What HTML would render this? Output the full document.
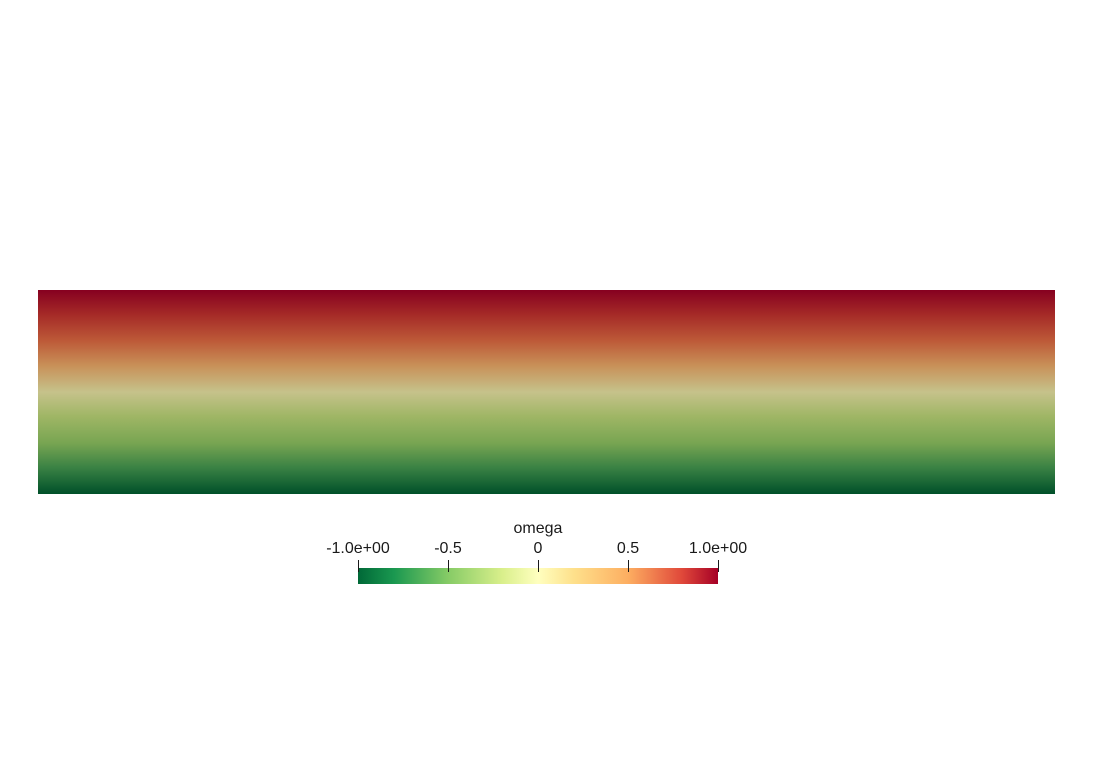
<!DOCTYPE html>
<html><head><meta charset="utf-8"><style>
html,body{margin:0;padding:0;background:#fff;width:1093px;height:784px;overflow:hidden}
svg{display:block}
text{font-family:"Liberation Sans","DejaVu Sans",sans-serif;font-size:16px;fill:#1a1a1a}
</style></head><body>
<svg id="chart" width="1093" height="784">
<defs>
<linearGradient id="field" x1="0" y1="0" x2="0" y2="1">
<stop offset="0" stop-color="#860020"/>
<stop offset="0.12" stop-color="#a52a27"/>
<stop offset="0.25" stop-color="#bd5a38"/>
<stop offset="0.37" stop-color="#c89058"/>
<stop offset="0.5" stop-color="#c6c28b"/>
<stop offset="0.62" stop-color="#9fb665"/>
<stop offset="0.75" stop-color="#78a552"/>
<stop offset="0.87" stop-color="#3a8244"/>
<stop offset="1" stop-color="#00502a"/>
</linearGradient>
<linearGradient id="cbar" x1="0" y1="0" x2="1" y2="0">
<stop offset="0" stop-color="#006837"/>
<stop offset="0.1" stop-color="#1a9850"/>
<stop offset="0.25" stop-color="#86cb66"/>
<stop offset="0.4" stop-color="#d9ef8b"/>
<stop offset="0.5" stop-color="#ffffbf"/>
<stop offset="0.6" stop-color="#fee08b"/>
<stop offset="0.75" stop-color="#fdae61"/>
<stop offset="0.9" stop-color="#e0483a"/>
<stop offset="1" stop-color="#a50026"/>
</linearGradient>
</defs>
<rect x="38" y="290" width="1017" height="204" fill="url(#field)"/>
<rect x="358" y="568" width="360" height="16" fill="url(#cbar)"/>
<text x="538" y="533" text-anchor="middle">omega</text>
<g id="ticks"></g>
</svg>
<script>
const tickValues = [-1, -0.5, 0, 0.5, 1];
const tickLabels = ["-1.0e+00", "-0.5", "0", "0.5", "1.0e+00"];
const domain = [-1, 1];
const x0 = 358, x1 = 718;
function xs(v){ return x0 + (v - domain[0]) / (domain[1] - domain[0]) * (x1 - x0); }
const g = document.getElementById('ticks');
const NS = "http://www.w3.org/2000/svg";
tickValues.forEach((v, i) => {
  const x = Math.round(xs(v)) + 0.5;
  const l = document.createElementNS(NS, 'line');
  l.setAttribute('x1', x); l.setAttribute('x2', x);
  l.setAttribute('y1', 560); l.setAttribute('y2', 572);
  l.setAttribute('stroke', '#1a1a1a'); l.setAttribute('stroke-width', '1');
  
  
  g.appendChild(l);
  const t = document.createElementNS(NS, 'text');
  t.setAttribute('x', xs(v)); t.setAttribute('y', 553);
  t.setAttribute('text-anchor', 'middle');
  t.textContent = tickLabels[i];
  
  
  g.appendChild(t);
});
</script>
</body></html>
